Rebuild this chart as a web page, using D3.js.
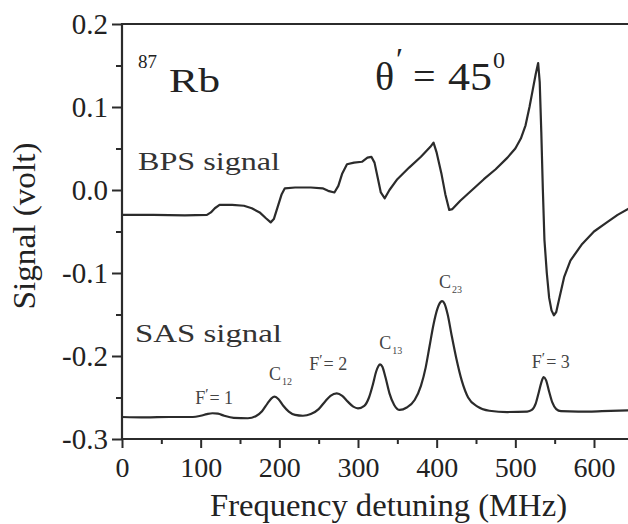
<!DOCTYPE html>
<html>
<head>
<meta charset="utf-8">
<script src="https://cdn.jsdelivr.net/npm/d3@7"></script>
<style>
  html, body { margin: 0; padding: 0; background: #ffffff; }
  svg { display: block; }
  svg text { font-family: "Liberation Serif", "Times New Roman", Times, serif; }
</style>
</head>
<body>
<svg id="chart" width="628" height="524"></svg>
<script>
// ---------- data ----------
const xTicks = [0, 100, 200, 300, 400, 500, 600];
const xMinorTicks = [50, 150, 250, 350, 450, 550];
const yTicks = [-0.3, -0.2, -0.1, 0.0, 0.1, 0.2];
const yTickLabels = ["-0.3", "-0.2", "-0.1", "0.0", "0.1", "0.2"];
const yMinorTicks = [-0.25, -0.15, -0.05, 0.05, 0.15];

// BPS signal (MHz, volt)
const bpsFreq = [0, 40, 80, 108, 113, 118, 124, 140, 155, 165, 175, 183, 189, 193, 198, 203, 207, 220, 240, 255,
  262, 270, 275, 280, 286, 295, 305, 312, 317, 321, 325, 329, 334, 340, 350, 365, 380, 392, 396, 400,
  406, 411, 416, 420, 430, 445, 460, 475, 490, 500, 507, 513, 518, 522, 526, 529, 531, 533, 535, 537,
  540, 543, 546, 549, 552, 556, 562, 570, 585, 600, 615, 630, 645];
const bpsSignal = [-0.030, -0.030, -0.0305, -0.030, -0.027, -0.022, -0.018, -0.018, -0.019, -0.022, -0.027, -0.034, -0.039, -0.035, -0.020, -0.005, 0.002, 0.003, 0.003, 0.002,
  -0.001, -0.003, 0.005, 0.020, 0.031, 0.033, 0.034, 0.039, 0.040, 0.033, 0.015, -0.003, -0.010, 0.000, 0.013, 0.027, 0.040, 0.052, 0.057, 0.045,
  0.020, -0.005, -0.024, -0.023, -0.013, 0.000, 0.013, 0.025, 0.039, 0.050, 0.062, 0.078, 0.100, 0.120, 0.140, 0.153, 0.130, 0.070, 0.000, -0.060,
  -0.100, -0.130, -0.145, -0.151, -0.147, -0.130, -0.105, -0.085, -0.065, -0.050, -0.040, -0.030, -0.022];

// SAS signal (MHz, volt)
const sasFreq = [0, 30, 60, 90, 100, 108, 115, 122, 130, 142, 160, 170, 178, 185, 190, 194, 199, 205, 212, 220,
  230, 240, 250, 258, 265, 273, 280, 287, 294, 300, 308, 314, 319, 323, 326, 328, 331, 335, 340, 346,
  353, 362, 372, 380, 386, 391, 396, 401, 405, 407, 410, 414, 419, 425, 432, 440, 452, 467, 490, 515,
  521, 526, 530, 533, 536, 539, 543, 547, 552, 558, 580, 610, 645];
const sasSignal = [-0.2735, -0.274, -0.2735, -0.2735, -0.272, -0.270, -0.269, -0.2695, -0.272, -0.2745, -0.275, -0.2725, -0.2665, -0.257, -0.251, -0.249, -0.252, -0.260, -0.267, -0.271,
  -0.272, -0.270, -0.264, -0.255, -0.248, -0.245, -0.248, -0.255, -0.261, -0.263, -0.260, -0.250, -0.234, -0.219, -0.212, -0.210, -0.213, -0.226, -0.245, -0.259,
  -0.265, -0.262, -0.253, -0.236, -0.214, -0.188, -0.162, -0.143, -0.135, -0.134, -0.137, -0.150, -0.175, -0.203, -0.230, -0.250, -0.261, -0.266, -0.2675, -0.267,
  -0.265, -0.257, -0.243, -0.232, -0.2255, -0.229, -0.243, -0.256, -0.264, -0.2665, -0.267, -0.2665, -0.2655];

// peak labels on the SAS trace
const peakMain = ["F", "C", "F", "C", "C", "F"];
const peakSub = ["", "12", "", "13", "23", ""];
const peakTail = ["= 1", "", "= 2", "", "", "= 3"];
const peakLabelFreq = [93, 187, 238, 327, 403, 521];
const peakLabelSignal = [-0.2575, -0.2290, -0.2170, -0.1910, -0.1180, -0.2150];

// ---------- drawing ----------
const SERIF = "'Liberation Serif', 'Times New Roman', Times, serif";
const svg = d3.select("#chart");
const x = d3.scaleLinear().domain([0, 600]).range([122, 594]);
const y = d3.scaleLinear().domain([-0.3, 0.2]).range([439, 24]);
const ink = "#2b2b2b";

svg.append("rect").attr("width", 628).attr("height", 524).attr("fill", "#ffffff");

svg.append("defs").append("clipPath").attr("id", "clip")
  .append("rect").attr("x", 122).attr("y", 24).attr("width", 520).attr("height", 415);

// axes
const xAxis = d3.axisBottom(x).tickValues(xTicks).tickSize(9).tickPadding(9).tickFormat(d3.format("d"));
const gx = svg.append("g").attr("transform", `translate(0,${y(-0.3)})`).call(xAxis);
gx.attr("font-family", SERIF);
gx.select(".domain").remove();
gx.selectAll(".tick line").attr("stroke", ink).attr("stroke-width", 2);
gx.selectAll(".tick text").attr("font-size", 28).attr("fill", "#222")
  .style("font-family", SERIF).attr("dy", "0.71em");

const gxm = svg.append("g").attr("transform", `translate(0,${y(-0.3)})`)
  .call(d3.axisBottom(x).tickValues(xMinorTicks).tickSize(5).tickFormat(""));
gxm.select(".domain").remove();
gxm.selectAll(".tick line").attr("stroke", ink).attr("stroke-width", 2);

const yAxis = d3.axisLeft(y).tickValues(yTicks).tickSize(10).tickPadding(4)
  .tickFormat((d, i) => yTickLabels[i]);
const gy = svg.append("g").attr("transform", `translate(${x(0)},0)`).call(yAxis);
gy.attr("font-family", SERIF);
gy.select(".domain").remove();
gy.selectAll(".tick line").attr("stroke", ink).attr("stroke-width", 2);
gy.selectAll(".tick text").attr("font-size", 29).attr("fill", "#222")
  .style("font-family", SERIF);

const gym = svg.append("g").attr("transform", `translate(${x(0)},0)`)
  .call(d3.axisLeft(y).tickValues(yMinorTicks).tickSize(6).tickFormat(""));
gym.select(".domain").remove();
gym.selectAll(".tick line").attr("stroke", ink).attr("stroke-width", 2);

// frame lines (left, bottom, top)
svg.append("line").attr("x1", x(0)).attr("x2", x(0)).attr("y1", y(0.2) - 1).attr("y2", y(-0.3) + 1)
  .attr("stroke", ink).attr("stroke-width", 2.2);
svg.append("line").attr("x1", x(0) - 1).attr("x2", 628).attr("y1", y(-0.3)).attr("y2", y(-0.3))
  .attr("stroke", ink).attr("stroke-width", 2.2);
svg.append("line").attr("x1", x(0) - 1).attr("x2", 628).attr("y1", y(0.2)).attr("y2", y(0.2))
  .attr("stroke", ink).attr("stroke-width", 2.2);

// curves
const bps = d3.zip(bpsFreq, bpsSignal);
const sas = d3.zip(sasFreq, sasSignal);
const plot = svg.append("g").attr("clip-path", "url(#clip)");
plot.append("path").attr("d", d3.line().x(d => x(d[0])).y(d => y(d[1])).curve(d3.curveLinear)(bps))
  .attr("fill", "none").attr("stroke", ink).attr("stroke-width", 2.2).attr("stroke-linejoin", "round");
plot.append("path").attr("d", d3.line().x(d => x(d[0])).y(d => y(d[1])).curve(d3.curveMonotoneX)(sas))
  .attr("fill", "none").attr("stroke", ink).attr("stroke-width", 2.2).attr("stroke-linejoin", "round");

function txt(px, py, size, str, fill) {
  return svg.append("text").attr("x", px).attr("y", py).attr("font-size", size)
    .attr("fill", fill || "#222").style("font-family", SERIF).text(str);
}

// axis titles
txt(210, 516, 31, "Frequency detuning (MHz)")
  .attr("textLength", 357).attr("lengthAdjust", "spacingAndGlyphs");
svg.append("text").attr("transform", "translate(35,226) rotate(-90)").attr("text-anchor", "middle")
  .attr("font-size", 31).attr("fill", "#222").style("font-family", SERIF)
  .attr("textLength", 167).attr("lengthAdjust", "spacingAndGlyphs")
  .text("Signal (volt)");

// in-plot annotations
txt(138, 68, 19, "87");
txt(169, 92, 34, "Rb").attr("textLength", 51).attr("lengthAdjust", "spacingAndGlyphs");

txt(375, 90, 40, "θ");
txt(396, 70, 32, "′");
txt(413, 90, 40, "=");
txt(448, 90, 40, "45").attr("textLength", 44).attr("lengthAdjust", "spacingAndGlyphs");
txt(493, 68, 24, "0");

txt(138, 170, 26, "BPS signal", "#333").attr("textLength", 142).attr("lengthAdjust", "spacingAndGlyphs");
txt(135, 342, 26, "SAS signal", "#333").attr("textLength", 147).attr("lengthAdjust", "spacingAndGlyphs");

// peak labels
peakMain.forEach((m, i) => {
  const t = txt(x(peakLabelFreq[i]), y(peakLabelSignal[i]), 18, null, "#444");
  t.append("tspan").text(m);
  if (peakSub[i]) {
    t.append("tspan").attr("font-size", 10).attr("dx", 1).attr("dy", 5).text(peakSub[i]);
  } else {
    t.append("tspan").attr("font-size", 15).attr("dx", 0).attr("dy", -5).text("′");
    t.append("tspan").attr("font-size", 18).attr("dx", 1).attr("dy", 5).text(peakTail[i]);
  }
});
</script>
</body>
</html>
